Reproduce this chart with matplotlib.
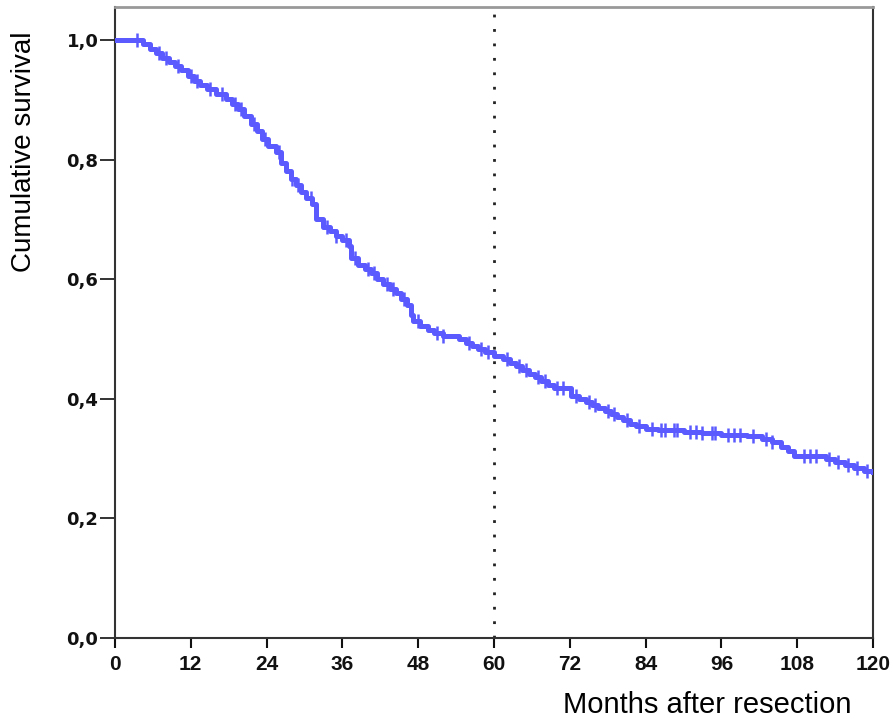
import numpy as np
import matplotlib.pyplot as plt

# Kaplan-Meier estimate (months, cumulative survival)
months = [0, 4.5, 5.5, 6.5, 7.5, 8.5, 9.5, 10.5, 11.5, 12.5, 13.5, 14.5, 16.0,
          17.5, 18.5, 19.5, 20.5, 21.5, 22.5, 23.3, 24.3, 25.5, 26.3, 27.0,
          27.8, 28.6, 29.4, 30.2, 31.2, 31.8, 33.0, 34.0, 35.0, 36.0, 37.0,
          37.4, 38.5, 39.5, 40.5, 41.5, 42.5, 43.5, 44.5, 45.3, 46.2, 46.8,
          47.2, 48.3, 49.5, 50.5, 52.0, 54.5, 55.5, 56.5, 57.5, 58.5, 60.0,
          61.5, 62.5, 63.5, 64.5, 65.5, 66.5, 67.5, 68.5, 69.5, 72.2, 73.5,
          74.5, 75.5, 76.5, 77.5, 78.5, 79.5, 80.5, 81.5, 82.5, 84.0, 86.0,
          90.0, 93.0, 96.0, 100.0, 102.5, 104.0, 105.5, 106.5, 107.5, 112.5,
          114.0, 115.5, 117.0, 118.5, 120.0]
survival = [1.0, 0.993, 0.985, 0.978, 0.970, 0.963, 0.957, 0.950, 0.940, 0.932,
            0.925, 0.918, 0.910, 0.902, 0.893, 0.884, 0.873, 0.860, 0.848,
            0.835, 0.822, 0.812, 0.795, 0.780, 0.768, 0.757, 0.745, 0.735,
            0.725, 0.700, 0.688, 0.680, 0.672, 0.665, 0.655, 0.635, 0.624,
            0.617, 0.610, 0.600, 0.592, 0.584, 0.576, 0.566, 0.557, 0.540,
            0.530, 0.522, 0.515, 0.510, 0.505, 0.500, 0.494, 0.488, 0.483,
            0.478, 0.472, 0.466, 0.460, 0.454, 0.448, 0.442, 0.436, 0.430,
            0.423, 0.418, 0.405, 0.400, 0.395, 0.390, 0.385, 0.380, 0.375,
            0.370, 0.364, 0.358, 0.354, 0.350, 0.347, 0.345, 0.342, 0.340,
            0.338, 0.333, 0.327, 0.320, 0.312, 0.305, 0.300, 0.294, 0.289,
            0.284, 0.280, 0.278]
censored = [3.5, 7.0, 8.0, 10.0, 12.0, 13.0, 15.0, 17.0, 19.0, 20.0, 22.0,
            23.8, 26.0, 28.0, 29.0, 31.0, 33.5, 35.0, 36.5, 38.0, 40.0, 41.0,
            43.0, 44.0, 45.8, 48.0, 51.0, 52.0, 56.0, 58.0, 59.0, 62.0, 64.0,
            65.0, 67.0, 68.0, 70.0, 71.0, 73.0, 75.0, 76.0, 78.0, 79.0, 81.0,
            83.0, 85.0, 86.5, 87.0, 88.5, 89.0, 91.0, 92.0, 93.0, 94.5, 95.0,
            97.0, 98.0, 99.0, 101.0, 103.0, 104.0, 109.0, 110.0, 111.0, 113.0,
            114.5, 116.0, 117.5, 119.0]

x_ticks = list(range(0, 121, 12))
y_ticks = [0.0, 0.2, 0.4, 0.6, 0.8, 1.0]
y_ticklabels = ['0,0', '0,2', '0,4', '0,6', '0,8', '1,0']
cutoff = 60

line_col = '#5a5aff'

fig = plt.figure(figsize=(8.93, 7.19), dpi=100)
ax = fig.add_axes([115 / 893, 81 / 719, 758 / 893, 631 / 719])

ax.step(months, survival, where='post', color=line_col, lw=3.6, zorder=3)
# censor marks sit on the step curve
idx = np.searchsorted(months, censored, side='right') - 1
ax.plot(censored, np.array(survival)[idx], ls='none', marker='|',
        ms=10, mew=1.8, color=line_col, zorder=3)

ax.axvline(cutoff, color='#222222', lw=2.0, ls=(0, (1, 4.2)), zorder=2)

ax.set_xlim(0, 120)
ax.set_ylim(0, 1.055)
ax.set_xticks(x_ticks)
ax.set_xticklabels([str(t) for t in x_ticks], fontsize=15, fontweight='bold',
                   family='Liberation Sans')
ax.set_yticks(y_ticks)
ax.set_yticklabels(y_ticklabels, fontsize=13, fontweight='bold',
                   family='DejaVu Sans')
ax.tick_params(axis='x', direction='out', length=7, width=1.5, pad=5,
               colors='#111111')
ax.tick_params(axis='y', direction='out', length=11, width=1.2, pad=1,
               colors='#111111')
for side in ['left', 'bottom', 'right']:
    ax.spines[side].set_color('#333333')
    ax.spines[side].set_linewidth(1.5)
ax.spines['top'].set_color('#999999')
ax.spines['top'].set_linewidth(2)

fig.text(707 / 893, 1 - 713 / 719, 'Months after resection', ha='center',
         va='baseline', fontsize=21, family='Liberation Sans')
fig.text(24 / 893, 1 - 152 / 719, 'Cumulative survival', ha='center',
         va='center', rotation=90, fontsize=20, family='Liberation Sans')

plt.savefig('out.png', dpi=100)
